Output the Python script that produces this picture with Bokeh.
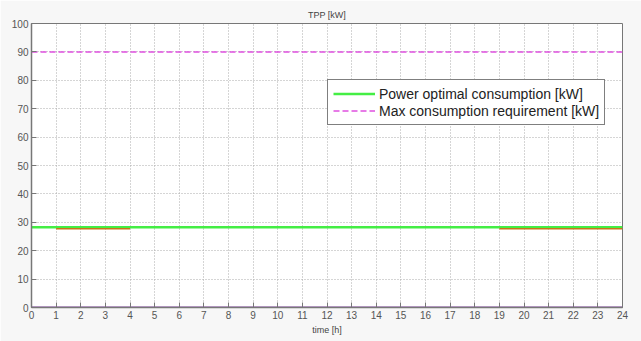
from bokeh.plotting import figure
from bokeh.models import Legend, LegendItem, FixedTicker, Range1d
from bokeh.embed import file_html
from bokeh.resources import INLINE

hours = list(range(0, 25))
power_optimal = [28.3] * 25
max_requirement = [90] * 25
# secondary (orange) segments
seg1_t = [1, 4]
seg1_v = [27.7, 27.7]
seg2_t = [19, 24]
seg2_v = [27.7, 27.7]
zero_line = [0] * 25

x_ticks = list(range(0, 25))
y_ticks = list(range(0, 101, 10))

p = figure(width=641, height=341, output_backend="svg", toolbar_location=None,
           x_range=Range1d(0, 24), y_range=Range1d(0, 100),
           min_border_left=31, min_border_right=19, min_border_top=23, min_border_bottom=34,
           background_fill_color="white", border_fill_color="#f7f7f7",
           title="TPP [kW]")
p.title.align = "center"
p.title.text_font = "Liberation Sans"
p.title.text_font_size = "9px"
p.title.text_font_style = "normal"
p.title.text_color = "#444444"
p.title.standoff = 7

p.outline_line_color = "#777777"
p.outline_line_width = 1

for ax in (p.xaxis[0], p.yaxis[0]):
    ax.major_label_text_font = "Liberation Sans"
    ax.major_label_text_font_size = "10px"
    ax.major_label_text_color = "#555555"
    ax.axis_line_color = "#777777"
    ax.axis_line_width = 1.5
    ax.major_tick_line_color = "#777777"
    ax.major_tick_in = 5
    ax.major_tick_out = 0
    ax.minor_tick_line_color = None
    ax.major_label_standoff = 3

p.xaxis.ticker = FixedTicker(ticks=x_ticks)
p.yaxis.ticker = FixedTicker(ticks=y_ticks)
p.xaxis.axis_label = "time [h]"
p.xaxis.axis_label_text_font = "Liberation Sans"
p.xaxis.axis_label_text_font_size = "9px"
p.xaxis.axis_label_text_font_style = "normal"
p.xaxis.axis_label_text_color = "#444444"
p.xaxis.axis_label_standoff = 3

p.grid.grid_line_color = "#aaaaaa"
p.grid.grid_line_dash = "1 2"
p.grid.grid_line_width = 1

g = p.line(hours, power_optimal, line_color="#44ee44", line_width=2.5)
p.line(seg1_t, seg1_v, line_color="#c87818", line_width=1.5)
p.line(seg2_t, seg2_v, line_color="#c87818", line_width=1.5)
m = p.line(hours, max_requirement, line_color="#e050e0", line_width=1.5, line_dash="6 3")
p.line(hours, zero_line, line_color="#8844aa", line_width=2)

legend = Legend(items=[LegendItem(label="Power optimal consumption [kW]", renderers=[g]),
                       LegendItem(label="Max consumption requirement [kW]", renderers=[m])],
                location=(296, 182), border_line_color="black", border_line_width=1,
                label_text_font="Liberation Sans", label_text_font_size="14px",
                label_text_color="#222222", glyph_width=42, spacing=0, padding=5,
                label_height=17, glyph_height=17, label_standoff=4, margin=0,
                background_fill_alpha=1)
p.add_layout(legend, "center")

open("out.html", "w").write(file_html(p, INLINE))
